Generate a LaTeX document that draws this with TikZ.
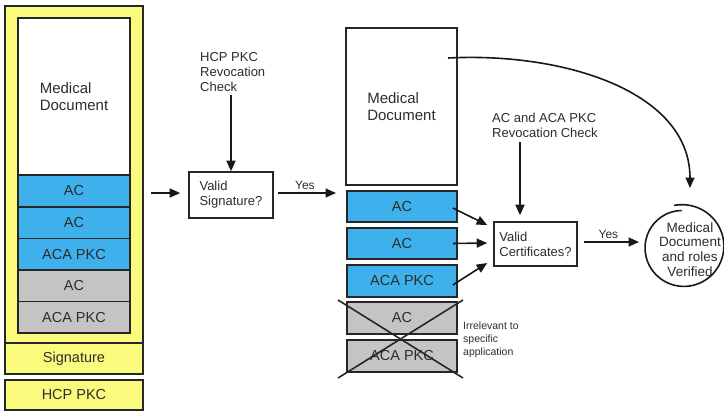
\documentclass[tikz,border=0pt]{standalone}
\usepackage{fontspec}
\setmainfont{Liberation Sans}
\usetikzlibrary{arrows.meta,calc}
\definecolor{ylw}{RGB}{250,250,125}
\definecolor{blu}{RGB}{62,176,236}
\definecolor{gry}{RGB}{196,196,196}
\definecolor{txt}{RGB}{45,45,45}
\begin{document}
\begin{tikzpicture}[x=1pt,y=-1pt,
  lw/.style={line width=1.6pt},
  cell/.style={draw=black!85, lw, minimum width=112pt, minimum height=31.6pt, inner sep=0pt, text=txt, font=\fontsize{14.5}{16}\selectfont},
  bcell/.style={cell, fill=blu},
  gcell/.style={cell, fill=gry},
  ycell/.style={cell, fill=ylw, minimum width=138pt},
  docbox/.style={draw=black!85, lw, fill=white, inner sep=0pt, align=left, text=txt, font=\fontsize{15}{16.5}\selectfont},
  qbox/.style={draw=black!85, lw, inner sep=0pt, align=left, text=txt, font=\fontsize{13}{15}\selectfont},
  lbl/.style={inner sep=0pt, align=left, text=txt, font=\fontsize{13}{15}\selectfont},
  small/.style={inner sep=0pt, align=left, text=txt, font=\fontsize{10.5}{13}\selectfont},
  arr/.style={lw, draw=black!90, -{Triangle[length=10.5pt,width=9pt]}}
]
\useasboundingbox (0,0) rectangle (724,413);
\fill[white] (0,0) rectangle (724,413);

% ---------- left column ----------
\node[draw=black!85, lw, fill=ylw, minimum width=138pt, minimum height=368pt, inner sep=0pt] (outer) at (74,190) {};
\node[docbox, minimum width=112pt, minimum height=157pt] (ldoc) at (74,96.5) {Medical\\Document};
\node[bcell] (lac1) at (74,191) {AC};
\node[bcell] (lac2) at (74,222.6) {AC};
\node[bcell] (laca) at (74,254.2) {ACA PKC};
\node[gcell] (lgac) at (74,285.8) {AC};
\node[gcell] (lgaca) at (74,317.4) {ACA PKC};
\node[ycell, minimum height=31pt] (sig) at (74,358.5) {Signature};
\node[ycell, minimum height=30pt] (hcp) at (74,395) {HCP PKC};

% ---------- signature check ----------
\node[qbox, minimum width=84pt, minimum height=46pt] (vsig) at (231,195) {Valid\\Signature?};
\node[lbl, anchor=west] (hcprev) at (200,72) {HCP PKC\\Revocation\\Check};
\coordinate (a1) at (151,193);
\draw[arr] (a1) -- (a1 -| vsig.west) [shorten >=8pt];
\draw[arr] (hcprev.south -| vsig.north) ++(0,3) -- (vsig.north);
\coordinate (yes1end) at (336,193);
\draw[arr, shorten <=4pt] (vsig.east |- yes1end) -- (yes1end) node[midway, above=3pt, lbl, font=\fontsize{12}{13}\selectfont] (yes1) {Yes};

% ---------- right column ----------
\node[docbox, minimum width=111pt, minimum height=157pt] (rdoc) at (401.5,106.5) {Medical\\Document};
\node[bcell, minimum width=110pt, minimum height=31pt] (rac1) at (402,206.5) {AC};
\node[bcell, minimum width=110pt, minimum height=31pt] (rac2) at (402,243.5) {AC};
\node[bcell, minimum width=110pt, minimum height=32pt] (raca) at (402,281) {ACA PKC};
\node[gcell, minimum width=110pt, minimum height=32pt] (rgac) at (402,318) {AC};
\node[gcell, minimum width=110pt, minimum height=32pt] (rgaca) at (402,356) {ACA PKC};
\coordinate (x1) at (338,300);
\coordinate (x2) at (463,378);
\coordinate (x3) at (463,300);
\coordinate (x4) at (338,378);
\draw[lw, black!85] (x1) -- (x2);
\draw[lw, black!85] (x3) -- (x4);
\node[small, anchor=west] (irr) at (463,340) {Irrelevant to\\specific\\application};

% ---------- certificate check ----------
\node[qbox, minimum width=83pt, minimum height=44pt] (vcert) at (535.5,244) {Valid\\Certificates?};
\node[lbl, anchor=west] (acrev) at (492,125) {AC and ACA PKC\\Revocation Check};
\coordinate (revtop) at (520,142);
\draw[arr, shorten >=6pt] (revtop) -- (revtop |- vcert.north);
\draw[arr] ($(rac1.east)+(-5,1.5)$) -- ($(vcert.west)+(-6,-19)$);
\draw[arr] ($(rac2.east)+(-5,0)$) -- ($(vcert.west)+(-6,-1)$);
\draw[arr] ($(raca.east)+(-5,4)$) -- ($(vcert.west)+(-6,19)$);

% ---------- verified ----------
\node[lbl, align=center, font=\fontsize{13.5}{14.8}\selectfont] (ver) at (690,249.5) {Medical\\Document\\and roles\\Verified};
\draw[lw, black!90] plot[smooth, domain=-102:268, samples=100, variable=\t]
  ({683+(42.5-6*(\t+102)/370)*cos(\t)}, {247+(42.5-6*(\t+102)/370)*sin(\t)});
\coordinate (yes2end) at (639,242);
\draw[arr, shorten <=6pt] (vcert.east |- yes2end) -- (yes2end) node[midway, above=3pt, lbl, font=\fontsize{12}{13}\selectfont] (yes2) {Yes};
\coordinate (cstart) at (448,58);
\coordinate (cend) at (690,188);
\draw[arr] (cstart) .. controls (565,52) and (690,92) .. (cend);
\end{tikzpicture}
\end{document}
